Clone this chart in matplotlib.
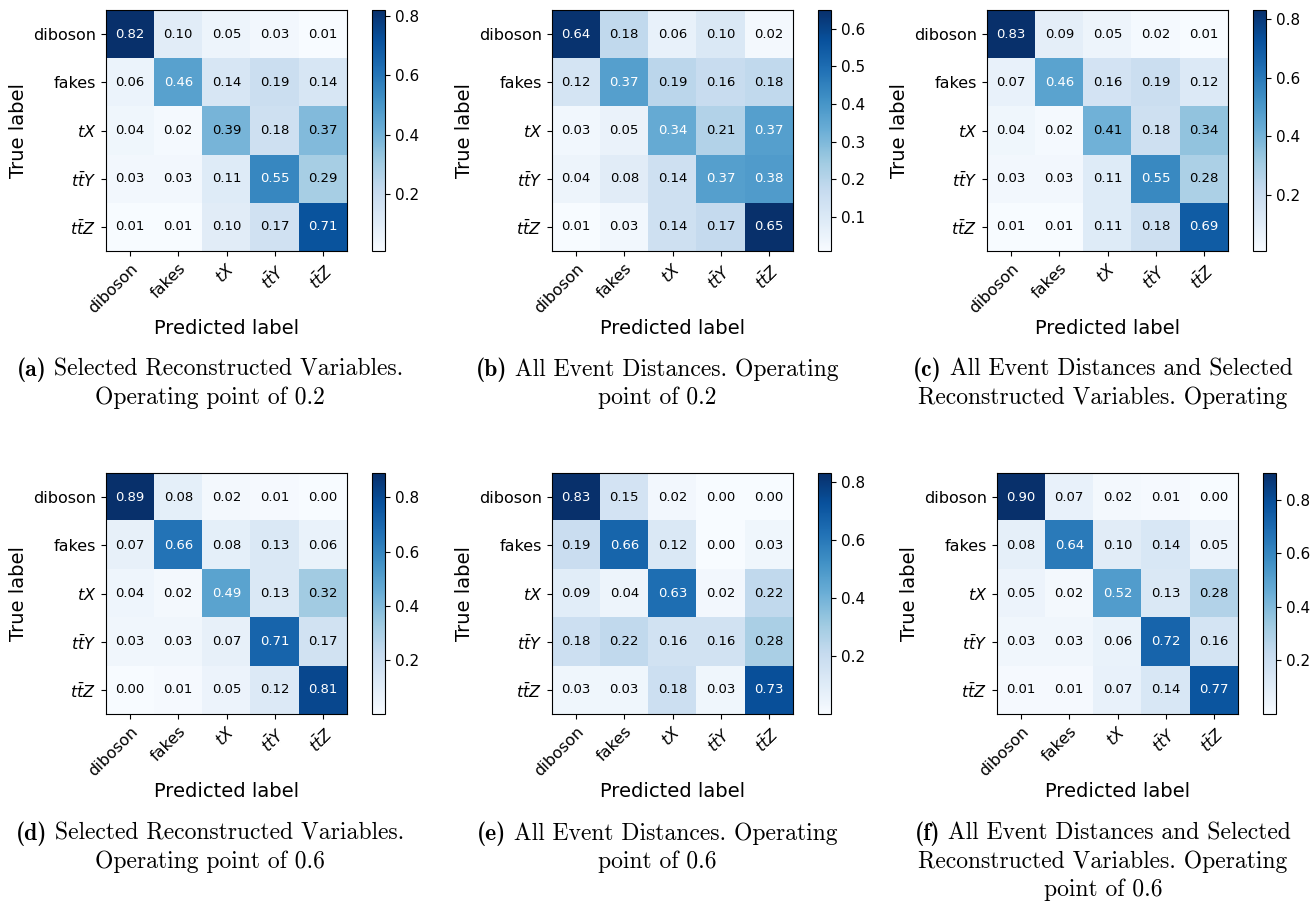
import matplotlib
matplotlib.use("Agg")
import matplotlib.pyplot as plt
import numpy as np

classes = ["diboson", "fakes", r"$tX$", r"$t\bar{t}Y$", r"$t\bar{t}Z$"]

cm_reco_02 = [[0.82, 0.10, 0.05, 0.03, 0.01],
              [0.06, 0.46, 0.14, 0.19, 0.14],
              [0.04, 0.02, 0.39, 0.18, 0.37],
              [0.03, 0.03, 0.11, 0.55, 0.29],
              [0.01, 0.01, 0.10, 0.17, 0.71]]
cm_dist_02 = [[0.64, 0.18, 0.06, 0.10, 0.02],
              [0.12, 0.37, 0.19, 0.16, 0.18],
              [0.03, 0.05, 0.34, 0.21, 0.37],
              [0.04, 0.08, 0.14, 0.37, 0.38],
              [0.01, 0.03, 0.14, 0.17, 0.65]]
cm_both_02 = [[0.83, 0.09, 0.05, 0.02, 0.01],
              [0.07, 0.46, 0.16, 0.19, 0.12],
              [0.04, 0.02, 0.41, 0.18, 0.34],
              [0.03, 0.03, 0.11, 0.55, 0.28],
              [0.01, 0.01, 0.11, 0.18, 0.69]]
cm_reco_06 = [[0.89, 0.08, 0.02, 0.01, 0.00],
              [0.07, 0.66, 0.08, 0.13, 0.06],
              [0.04, 0.02, 0.49, 0.13, 0.32],
              [0.03, 0.03, 0.07, 0.71, 0.17],
              [0.00, 0.01, 0.05, 0.12, 0.81]]
cm_dist_06 = [[0.83, 0.15, 0.02, 0.00, 0.00],
              [0.19, 0.66, 0.12, 0.00, 0.03],
              [0.09, 0.04, 0.63, 0.02, 0.22],
              [0.18, 0.22, 0.16, 0.16, 0.28],
              [0.03, 0.03, 0.18, 0.03, 0.73]]
cm_both_06 = [[0.90, 0.07, 0.02, 0.01, 0.00],
              [0.08, 0.64, 0.10, 0.14, 0.05],
              [0.05, 0.02, 0.52, 0.13, 0.28],
              [0.03, 0.03, 0.06, 0.72, 0.16],
              [0.01, 0.01, 0.07, 0.14, 0.77]]

sub_labels = ["(a)", "(b)", "(c)", "(d)", "(e)", "(f)"]
captions = [
    ["Selected Reconstructed Variables.", "Operating point of 0.2"],
    ["All Event Distances. Operating", "point of 0.2"],
    ["All Event Distances and Selected", "Reconstructed Variables. Operating"],
    ["Selected Reconstructed Variables.", "Operating point of 0.6"],
    ["All Event Distances. Operating", "point of 0.6"],
    ["All Event Distances and Selected", "Reconstructed Variables. Operating",
     "point of 0.6"],
]

W, H = 1316, 902
fig = plt.figure(figsize=(W / 100, H / 100), dpi=100)
renderer = fig.canvas.get_renderer()

# (left, top, colorbar left, caption centre x, first caption baseline) in pixels
panels = [
    (cm_reco_02, 106, 10, 372, 210, 376),
    (cm_dist_02, 552, 10, 818, 657, 376),
    (cm_both_02, 987, 10, 1253, 1103, 376),
    (cm_reco_06, 106, 473, 372, 210, 840),
    (cm_dist_06, 552, 473, 818, 657, 840),
    (cm_both_06, 997, 473, 1263, 1103, 840),
]
size = 241
cap_size = 17
line_gap = 28


def draw_caption(label, lines, cx, base):
    # first line: bold sub-figure label followed by roman text, centred as one
    y = 1 - base / H
    t_lab = fig.text(0, y, label, family="cmb10", fontsize=cap_size, va="baseline")
    t_rest = fig.text(0, y, " " + lines[0], family="cmr10", fontsize=cap_size,
                      va="baseline")
    w_lab = t_lab.get_window_extent(renderer).width
    w_rest = t_rest.get_window_extent(renderer).width
    x0 = cx - (w_lab + w_rest) / 2
    t_lab.set_x(x0 / W)
    t_rest.set_x((x0 + w_lab) / W)
    for k, line in enumerate(lines[1:], start=1):
        fig.text(cx / W, 1 - (base + k * line_gap) / H, line, family="cmr10",
                 fontsize=cap_size, ha="center", va="baseline")


def draw_cm(cm, left, top, cb_left):
    cm = np.array(cm)
    ax = fig.add_axes([left / W, 1 - (top + size) / H, size / W, size / H])
    cax = fig.add_axes([cb_left / W, 1 - (top + size) / H, 13 / W, size / H])
    im = ax.imshow(cm, cmap="Blues", aspect="auto", interpolation="nearest")
    cb = fig.colorbar(im, cax=cax)
    vmin, vmax = im.get_clim()
    cb.set_ticks([t for t in cb.get_ticks() if vmin + 1e-6 < t <= vmax])
    cb.ax.tick_params(labelsize=11)
    n = len(classes)
    ax.set_xticks(np.arange(n))
    ax.set_yticks(np.arange(n))
    ax.set_xticklabels(classes, fontsize=11.5)
    ax.set_yticklabels(classes, fontsize=11.5)
    plt.setp(ax.get_xticklabels(), rotation=45, ha="right", rotation_mode="anchor")
    ax.set_xlabel("Predicted label", fontsize=14, labelpad=2)
    ax.set_ylabel("True label", fontsize=14)
    thresh = cm.max() / 2.0
    for i in range(n):
        for j in range(n):
            ax.text(j, i, f"{cm[i, j]:.2f}", ha="center", va="center", fontsize=9.5,
                    color="white" if cm[i, j] > thresh else "black")


for (cm, left, top, cb_left, cap_x, cap_base), lab, lines in zip(panels, sub_labels, captions):
    draw_cm(cm, left, top, cb_left)
    draw_caption(lab, lines, cap_x, cap_base)

plt.savefig("out.png", dpi=100)
